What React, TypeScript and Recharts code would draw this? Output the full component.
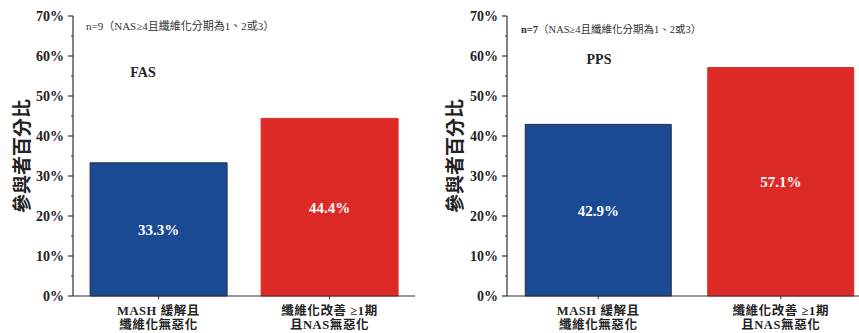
import React from "react";
import { Bar, BarChart, Cell, LabelList, XAxis, YAxis } from "recharts";

const categories = ["MASH 緩解且\n纖維化無惡化", "纖維化改善 ≥1期\n且NAS無惡化"];
const fasValues = [33.3, 44.4];
const ppsValues = [42.9, 57.1];
const yTicks = [0, 5, 10, 15, 20, 25, 30, 35, 40, 45, 50, 55, 60, 65, 70];
const edgeTicks = [0, 1, 2];
const yTitle = "參與者百分比";

const ink = "#222";
const axisColor = "#333";
const blue = "#1a4a94";
const blueEdge = "#2a2d3c";
const red = "#dd2a27";
const font = '"Liberation Serif", "Noto Sans CJK TC", serif';

const barFills = [blue, red];
const barStrokes = [blueEdge, red];

function toRows(values: number[]) {
  return categories.map((name, i) => ({ name, value: values[i] }));
}

// draws long ticks with labels at 10% steps, short unlabeled ticks between
function PercentTick({ x, y, payload }: any) {
  const v = Number(payload.value);
  const major = v % 10 === 0;
  return (
    <g>
      <line x1={x - (major ? 5 : 2)} x2={x} y1={y} y2={y} stroke={axisColor} strokeWidth={1.2} />
      {major && (
        <text x={x - 9} y={y + 5} textAnchor="end" fill={ink} fontSize={14} fontWeight="bold" fontFamily={font}>
          {`${v}%`}
        </text>
      )}
    </g>
  );
}

function CategoryTick({ x, y, payload }: any) {
  const lines = String(payload.value).split("\n");
  return (
    <text x={x} y={y} textAnchor="middle" fill={ink} fontSize={12.5} fontWeight="bold" fontFamily={font} letterSpacing={0.6}>
      {lines.map((line, i) => (
        <tspan key={i} x={x} dy={i === 0 ? 13.5 : 14.5}>
          {line}
        </tspan>
      ))}
    </text>
  );
}

function Panel({ values, width, axisWidth, right, titleOffset }: { values: number[]; width: number; axisWidth: number; right: number; titleOffset: number }) {
  const rows = toRows(values);
  return (
    <BarChart width={width} height={333} data={rows} margin={{ top: 16, right, bottom: 0, left: 0 }} barCategoryGap="10%">
      <XAxis xAxisId="edges" type="number" domain={[0, 2]} ticks={edgeTicks} height={0} tick={false} tickSize={3} axisLine={false} stroke={axisColor} />
      <XAxis
        dataKey="name"
        height={37}
        interval={0}
        tick={<CategoryTick />}
        tickSize={3}
        tickMargin={2}
        axisLine={{ stroke: axisColor, strokeWidth: 1.2 }}
        tickLine={{ stroke: axisColor }}
      />
      <XAxis xAxisId="top" orientation="top" dataKey="name" height={0} tick={false} tickLine={false} axisLine={{ stroke: axisColor, strokeWidth: 1.2 }} />
      <YAxis
        domain={[0, 70]}
        ticks={yTicks}
        interval={0}
        width={axisWidth}
        tick={<PercentTick />}
        tickSize={0}
        tickMargin={0}
        tickLine={false}
        axisLine={{ stroke: axisColor, strokeWidth: 1.2 }}
        label={{
          value: yTitle,
          angle: -90,
          position: "insideLeft",
          offset: titleOffset,
          style: { textAnchor: "middle", fill: ink, fontSize: 19, fontWeight: "bold", fontFamily: font }
        }}
      />
      <YAxis yAxisId="frame" orientation="right" width={0} tick={false} tickLine={false} axisLine={{ stroke: axisColor, strokeWidth: 1.2 }} />
      <Bar dataKey="value" isAnimationActive={false}>
        {rows.map((row, i) => (
          <Cell key={row.name} fill={barFills[i]} stroke={barStrokes[i]} strokeWidth={1} />
        ))}
        <LabelList
          dataKey="value"
          position="center"
          formatter={(v: any) => `${v}%`}
          fill="#fff"
          fontSize={15}
          fontWeight="bold"
          fontFamily={font}
        />
      </Bar>
    </BarChart>
  );
}

const note: React.CSSProperties = { position: "absolute", whiteSpace: "nowrap", color: "#333", fontFamily: font, lineHeight: 1 };
const tag: React.CSSProperties = { position: "absolute", color: ink, fontFamily: font, fontWeight: "bold", fontSize: 14, lineHeight: 1, transform: "translate(-50%, -50%)" };

export default function App() {
  return (
    <div style={{ position: "absolute", left: 0, top: 0, width: 859, height: 333, overflow: "hidden", background: "#fff" }}>
      <div style={{ position: "absolute", left: 0, top: 0 }}>
        <Panel values={fasValues} width={430} axisWidth={73} right={15} titleOffset={22} />
      </div>
      <div style={{ position: "absolute", left: 430, top: 0 }}>
        <Panel values={ppsValues} width={442} axisWidth={77} right={0} titleOffset={25} />
      </div>
      <div style={{ ...note, left: 86, top: 21, fontSize: 11 }}>n=9（NAS≥4且纖維化分期為1、2或3）</div>
      <div style={{ ...note, left: 521, top: 25, fontSize: 10.5 }}>
        <b>n=7</b>（NAS≥4且纖維化分期為1、2或3）
      </div>
      <div style={{ ...tag, left: 143, top: 73 }}>FAS</div>
      <div style={{ ...tag, left: 599, top: 60 }}>PPS</div>
    </div>
  );
}
